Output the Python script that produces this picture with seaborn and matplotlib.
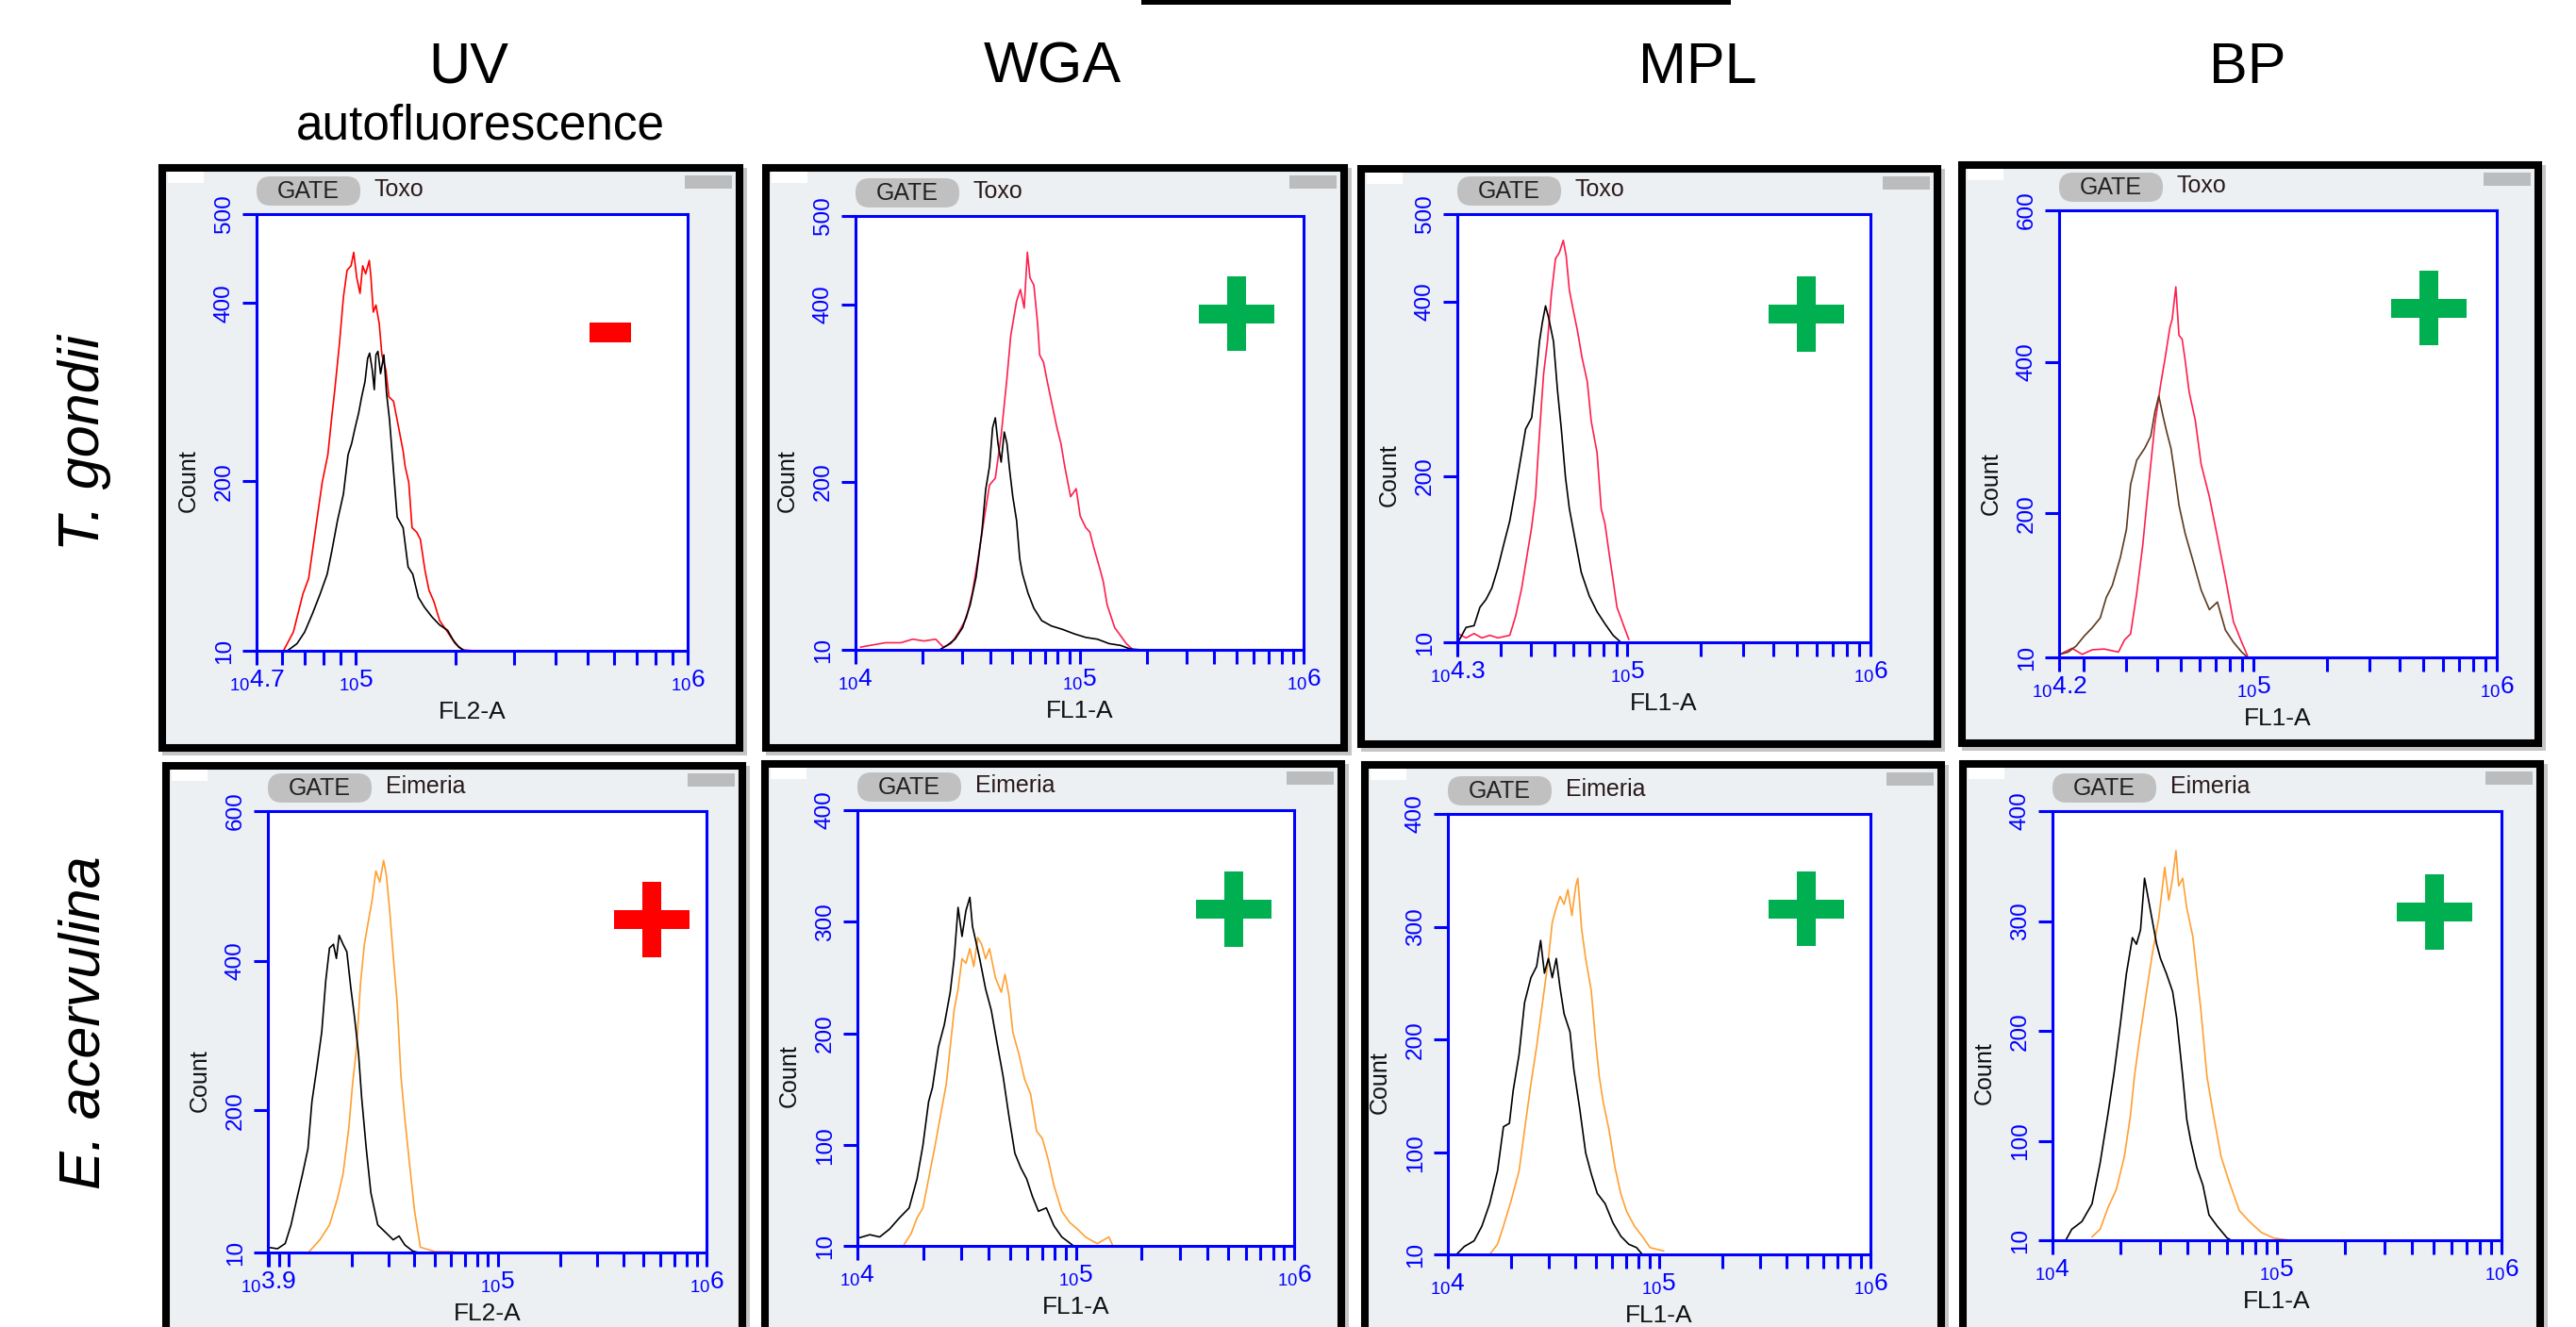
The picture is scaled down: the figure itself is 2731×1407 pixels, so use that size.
"""
Flow cytometry panel figure: lectin staining of T. gondii and E. acervulina
(UV autofluorescence, WGA, MPL, BP), re-drawn with seaborn / matplotlib.
"""

import numpy as np
import matplotlib
matplotlib.use("Agg")
import matplotlib.pyplot as plt
from matplotlib.patches import Rectangle, FancyBboxPatch, Polygon
from matplotlib.ticker import LogLocator, NullFormatter
import seaborn as sns

sns.set_theme(style="white")
plt.rcParams["font.family"] = ["Liberation Sans", "DejaVu Sans"]
plt.rcParams["mathtext.default"] = "regular"

W, H = 2731, 1407

# ---------------- labels ----------------
COLUMNS = ["UV", "WGA", "MPL", "BP"]
COLUMN_SUB = "autofluorescence"
ROWS = ["T. gondii", "E. acervulina"]
GATES = ["Toxo", "Eimeria"]
RESULTS = ["-", "+", "+", "+", "+", "+", "+", "+"]
X_LABELS = ["FL2-A", "FL1-A", "FL1-A", "FL1-A", "FL2-A", "FL1-A", "FL1-A", "FL1-A"]
X_LOW_EXP = [4.7, 4.0, 4.3, 4.2, 3.9, 4.0, 4.0, 4.0]
Y_TICKS = [
    [10, 200, 400, 500], [10, 200, 400, 500], [10, 200, 400, 500], [10, 200, 400, 600],
    [10, 200, 400, 600], [10, 100, 200, 300, 400], [10, 100, 200, 300, 400], [10, 100, 200, 300, 400],
]

# ---------------- histograms (log10 intensity, count) ----------------
# T. gondii - UV
toxo_uv_ctrl_log = [4.793, 4.822, 4.845, 4.869, 4.892, 4.913, 4.927, 4.944, 4.962, 4.976, 4.987, 4.997, 5.008,
                    5.017, 5.027, 5.035, 5.041, 5.049, 5.055, 5.060, 5.066, 5.074, 5.084, 5.092, 5.101, 5.113,
                    5.124, 5.142, 5.157, 5.171, 5.188, 5.206, 5.229, 5.252, 5.276, 5.293, 5.310, 5.328]
toxo_uv_ctrl_count = [10, 18, 31, 52, 74, 96, 122, 156, 186, 230, 243, 260, 277, 295, 312, 338, 344, 325, 303,
                      342, 346, 321, 342, 299, 269, 212, 160, 148, 104, 96, 70, 59, 48, 39, 33, 22, 14, 10]
toxo_uv_stain_log = [4.781, 4.811, 4.840, 4.857, 4.880, 4.898, 4.915, 4.927, 4.936, 4.950, 4.962, 4.973, 4.985,
                     4.993, 5.002, 5.012, 5.020, 5.029, 5.040, 5.045, 5.052, 5.060, 5.070, 5.078, 5.090, 5.099,
                     5.113, 5.124, 5.142, 5.148, 5.159, 5.169, 5.183, 5.194, 5.208, 5.220, 5.235, 5.252, 5.276,
                     5.299, 5.322, 5.357]
toxo_uv_stain_count = [10, 31, 74, 91, 152, 199, 230, 273, 303, 355, 407, 437, 442, 457, 429, 411, 442, 433, 448,
                       429, 390, 398, 377, 342, 325, 295, 290, 269, 234, 217, 199, 148, 143, 135, 100, 78, 65, 44,
                       31, 18, 11, 10]

# T. gondii - WGA
toxo_wga_ctrl_log = [4.065, 4.375, 4.409, 4.444, 4.478, 4.512, 4.538, 4.564, 4.581, 4.598, 4.612, 4.624, 4.636,
                     4.650, 4.664, 4.676, 4.688, 4.702, 4.719, 4.733, 4.745, 4.770, 4.796, 4.831, 4.874, 4.925,
                     4.977, 5.028, 5.080, 5.132, 5.183, 5.226, 5.278]
toxo_wga_ctrl_count = [10, 10, 15, 22, 35, 61, 92, 143, 191, 217, 261, 272, 243, 222, 256, 243, 213, 183, 156,
                       113, 96, 74, 57, 43, 37, 33, 28, 24, 22, 17, 15, 11, 10]
toxo_wga_stain_log = [4.022, 4.065, 4.134, 4.203, 4.255, 4.306, 4.358, 4.392, 4.426, 4.461, 4.495, 4.521, 4.547,
                      4.573, 4.598, 4.624, 4.650, 4.676, 4.693, 4.719, 4.736, 4.753, 4.767, 4.779, 4.796, 4.813,
                      4.822, 4.839, 4.856, 4.874, 4.899, 4.917, 4.934, 4.960, 4.985, 5.003, 5.028, 5.046, 5.063,
                      5.088, 5.106, 5.123, 5.140, 5.157, 5.183, 5.209, 5.235]
toxo_wga_stain_count = [13, 15, 18, 18, 22, 20, 22, 13, 17, 30, 46, 74, 113, 156, 196, 204, 252, 317, 365, 404,
                        417, 396, 459, 430, 422, 378, 343, 335, 313, 291, 261, 243, 217, 183, 192, 161, 148, 143,
                        126, 104, 87, 61, 48, 35, 26, 17, 11]

# T. gondii - MPL
toxo_mpl_ctrl_log = [4.303, 4.336, 4.369, 4.393, 4.418, 4.442, 4.467, 4.491, 4.516, 4.540, 4.565, 4.581, 4.606,
                     4.622, 4.638, 4.650, 4.663, 4.676, 4.696, 4.712, 4.728, 4.745, 4.761, 4.785, 4.810, 4.843,
                     4.875, 4.908, 4.941, 4.973]
toxo_mpl_ctrl_count = [10, 27, 29, 50, 59, 72, 95, 122, 149, 186, 227, 254, 267, 308, 354, 376, 395, 381, 354,
                       299, 254, 199, 163, 127, 90, 63, 45, 31, 18, 10]
toxo_mpl_stain_log = [4.303, 4.336, 4.369, 4.401, 4.434, 4.467, 4.516, 4.540, 4.565, 4.589, 4.605, 4.622, 4.633,
                      4.646, 4.655, 4.671, 4.687, 4.704, 4.720, 4.736, 4.748, 4.761, 4.777, 4.794, 4.813, 4.835,
                      4.851, 4.875, 4.892, 4.908, 4.924, 4.941, 4.957, 4.982, 5.006]
toxo_mpl_stain_count = [20, 15, 20, 15, 18, 15, 18, 40, 72, 113, 140, 177, 227, 281, 317, 354, 408, 449, 456,
                        470, 452, 413, 390, 367, 336, 308, 263, 227, 163, 145, 113, 81, 50, 31, 13]

# T. gondii - BP
toxo_bp_ctrl_log = [4.203, 4.237, 4.270, 4.303, 4.336, 4.369, 4.394, 4.419, 4.452, 4.477, 4.494, 4.519, 4.552,
                    4.577, 4.594, 4.610, 4.627, 4.643, 4.660, 4.677, 4.693, 4.718, 4.751, 4.784, 4.818, 4.851,
                    4.884, 4.917, 4.951, 4.975]
toxo_bp_ctrl_count = [14, 17, 25, 38, 49, 62, 89, 105, 142, 179, 238, 270, 286, 302, 334, 355, 329, 307, 286,
                      249, 211, 174, 137, 99, 73, 83, 46, 30, 17, 10]
toxo_bp_stain_log = [4.203, 4.253, 4.295, 4.336, 4.386, 4.444, 4.469, 4.494, 4.519, 4.544, 4.560, 4.577, 4.594,
                     4.618, 4.635, 4.656, 4.665, 4.680, 4.693, 4.706, 4.718, 4.735, 4.760, 4.784, 4.818, 4.851,
                     4.884, 4.917, 4.951, 4.975]
toxo_bp_stain_count = [14, 22, 14, 20, 21, 17, 33, 41, 94, 158, 211, 265, 318, 371, 403, 446, 456, 499, 435,
                       430, 403, 360, 323, 265, 222, 169, 115, 57, 30, 12]

# E. acervulina - UV
eim_uv_ctrl_log = [3.900, 3.946, 3.983, 4.011, 4.038, 4.066, 4.092, 4.111, 4.134, 4.158, 4.177, 4.195, 4.214,
                   4.228, 4.241, 4.260, 4.278, 4.297, 4.315, 4.334, 4.349, 4.371, 4.393, 4.426, 4.463, 4.500,
                   4.528, 4.556, 4.593, 4.620]
eim_uv_ctrl_count = [17, 15, 22, 47, 81, 115, 149, 212, 256, 305, 373, 417, 422, 403, 434, 422, 412, 364, 324,
                     276, 217, 149, 90, 47, 37, 27, 32, 20, 12, 10]
eim_uv_stain_log = [4.094, 4.149, 4.195, 4.232, 4.260, 4.288, 4.306, 4.325, 4.343, 4.362, 4.380, 4.399, 4.417,
                    4.436, 4.454, 4.467, 4.482, 4.500, 4.519, 4.537, 4.556, 4.578, 4.602, 4.630, 4.703, 4.787]
eim_uv_stain_count = [10, 27, 47, 81, 115, 178, 237, 285, 368, 422, 451, 481, 520, 505, 534, 515, 471, 407, 344,
                      246, 188, 129, 66, 17, 11, 11]

# E. acervulina - WGA
eim_wga_ctrl_log = [4.004, 4.057, 4.102, 4.147, 4.192, 4.237, 4.273, 4.300, 4.326, 4.344, 4.371, 4.398, 4.425,
                    4.443, 4.461, 4.479, 4.497, 4.515, 4.527, 4.542, 4.560, 4.587, 4.613, 4.640, 4.667, 4.694,
                    4.721, 4.748, 4.775, 4.802, 4.829, 4.865, 4.900, 4.936, 4.990]
eim_wga_ctrl_count = [17, 20, 18, 25, 35, 44, 70, 100, 139, 152, 188, 208, 237, 267, 313, 287, 310, 322, 296,
                      283, 267, 240, 221, 191, 162, 126, 93, 80, 70, 54, 41, 44, 28, 18, 10]
eim_wga_stain_log = [4.210, 4.246, 4.273, 4.300, 4.326, 4.353, 4.380, 4.407, 4.425, 4.443, 4.461, 4.479, 4.497,
                     4.515, 4.533, 4.551, 4.569, 4.587, 4.605, 4.632, 4.659, 4.676, 4.694, 4.712, 4.739, 4.766,
                     4.793, 4.820, 4.847, 4.874, 4.900, 4.936, 4.972, 5.008, 5.044, 5.098, 5.152, 5.170]
eim_wga_stain_count = [10, 21, 35, 44, 70, 97, 126, 155, 188, 221, 240, 267, 263, 276, 260, 286, 280, 267, 276,
                       250, 237, 253, 234, 201, 182, 159, 146, 113, 106, 87, 64, 41, 31, 25, 18, 12, 18, 10]

# E. acervulina - MPL
eim_mpl_ctrl_log = [4.041, 4.078, 4.124, 4.161, 4.198, 4.235, 4.263, 4.291, 4.309, 4.337, 4.363, 4.393, 4.420,
                    4.439, 4.457, 4.476, 4.494, 4.513, 4.531, 4.550, 4.578, 4.596, 4.624, 4.652, 4.679, 4.707,
                    4.744, 4.781, 4.819, 4.856, 4.893, 4.920]
eim_mpl_ctrl_count = [10, 17, 22, 35, 55, 84, 123, 126, 155, 187, 233, 255, 265, 288, 259, 272, 255, 272, 246,
                      223, 207, 174, 139, 100, 81, 64, 55, 38, 26, 19, 16, 10]
eim_mpl_stain_log = [4.198, 4.235, 4.263, 4.300, 4.337, 4.365, 4.393, 4.420, 4.448, 4.476, 4.494, 4.513, 4.531,
                     4.550, 4.568, 4.587, 4.605, 4.615, 4.633, 4.652, 4.679, 4.698, 4.716, 4.735, 4.763, 4.791,
                     4.818, 4.846, 4.883, 4.920, 4.957, 5.022]
eim_mpl_stain_count = [10, 19, 35, 58, 84, 123, 161, 194, 233, 272, 304, 317, 327, 320, 333, 310, 336, 343, 298,
                       272, 243, 201, 168, 145, 120, 87, 64, 48, 35, 26, 16, 13]

# E. acervulina - BP
eim_bp_ctrl_log = [4.059, 4.086, 4.131, 4.176, 4.212, 4.248, 4.275, 4.302, 4.329, 4.356, 4.374, 4.392, 4.410,
                   4.428, 4.446, 4.464, 4.481, 4.508, 4.535, 4.553, 4.580, 4.598, 4.616, 4.643, 4.670, 4.697,
                   4.733, 4.778, 4.796]
eim_bp_ctrl_count = [10, 20, 27, 43, 80, 126, 163, 206, 252, 285, 279, 292, 339, 319, 299, 279, 266, 252, 236,
                     212, 159, 120, 100, 76, 60, 33, 23, 12, 10]
eim_bp_stain_log = [4.176, 4.212, 4.248, 4.284, 4.320, 4.347, 4.365, 4.392, 4.419, 4.446, 4.473, 4.500, 4.518,
                    4.535, 4.550, 4.562, 4.580, 4.598, 4.625, 4.661, 4.688, 4.715, 4.751, 4.787, 4.832, 4.877,
                    4.931, 4.985, 5.057]
eim_bp_stain_count = [13, 20, 40, 56, 86, 123, 159, 199, 236, 272, 302, 349, 319, 339, 364, 332, 339, 312, 286,
                      219, 159, 126, 86, 63, 37, 27, 17, 12, 10]

CTRL = [
    (toxo_uv_ctrl_log, toxo_uv_ctrl_count), (toxo_wga_ctrl_log, toxo_wga_ctrl_count),
    (toxo_mpl_ctrl_log, toxo_mpl_ctrl_count), (toxo_bp_ctrl_log, toxo_bp_ctrl_count),
    (eim_uv_ctrl_log, eim_uv_ctrl_count), (eim_wga_ctrl_log, eim_wga_ctrl_count),
    (eim_mpl_ctrl_log, eim_mpl_ctrl_count), (eim_bp_ctrl_log, eim_bp_ctrl_count),
]
STAIN = [
    (toxo_uv_stain_log, toxo_uv_stain_count), (toxo_wga_stain_log, toxo_wga_stain_count),
    (toxo_mpl_stain_log, toxo_mpl_stain_count), (toxo_bp_stain_log, toxo_bp_stain_count),
    (eim_uv_stain_log, eim_uv_stain_count), (eim_wga_stain_log, eim_wga_stain_count),
    (eim_mpl_stain_log, eim_mpl_stain_count), (eim_bp_stain_log, eim_bp_stain_count),
]

# ---------------- layout (pixels) ----------------
BOXES = [(168, 174, 788, 797), (808, 174, 1429, 797), (1439, 175, 2058, 793), (2076, 171, 2695, 792),
         (172, 808, 791, 1430), (807, 806, 1426, 1430), (1443, 807, 2062, 1430), (2077, 806, 2697, 1430)]
AXES_PX = [(272, 227, 729, 690), (907, 229, 1382, 689), (1545, 227, 1983, 681), (2183, 223, 2647, 697),
           (284, 860, 749, 1328), (909, 859, 1372, 1321), (1535, 863, 1983, 1330), (2176, 860, 2652, 1315)]
SIGNS = [(625, 342, 669, 363), (1271, 293, 1351, 372), (1875, 293, 1955, 373), (2535, 287, 2615, 366),
         (651, 935, 731, 1015), (1268, 924, 1348, 1004), (1875, 924, 1955, 1003), (2541, 927, 2621, 1007)]

CTRL_COLORS = ["#000000", "#000000", "#000000", "#5C3A1E", "#000000", "#000000", "#000000", "#000000"]
STAIN_COLORS = ["#FF0000", "#FF1F4E", "#FF1F4E", "#FF1F4E", "#FFA033", "#FFA033", "#FFA033", "#FFA033"]
SIGN_COLORS = ["#FF0000", "#00B050", "#00B050", "#00B050", "#FF0000", "#00B050", "#00B050", "#00B050"]
BLUE = "#0000FF"
PANEL_BG = "#ECF0F3"


def px_rect(l, t, r, b):
    return [l / W, 1 - b / H, (r - l) / W, (b - t) / H]


fig = plt.figure(figsize=(W / 100, H / 100), dpi=100)
fig.patch.set_facecolor("white")

# background layer in pixel coordinates
bg = fig.add_axes([0, 0, 1, 1], zorder=-1)
bg.set_xlim(0, W)
bg.set_ylim(H, 0)
bg.axis("off")

# foreground layer in pixel coordinates
fg = fig.add_axes([0, 0, 1, 1], zorder=10)
fg.set_xlim(0, W)
fg.set_ylim(H, 0)
fg.axis("off")

# cropped line at the top and a sliver of something in the corner
bg.add_patch(Rectangle((1210, 0), 625, 5, color="black", lw=0))
bg.add_patch(Polygon([(185, 1407), (192, 1403), (262, 1401), (262, 1407)], color="#9B2B24", lw=0))

for i in range(8):
    l, t, r, b = BOXES[i]
    # shadow + framed panel
    bg.add_patch(Rectangle((l + 4, t + 4), r - l, b - t, color="#8C8C8C", alpha=0.5, lw=0))
    bg.add_patch(Rectangle((l + 4, t + 4), r - l - 8, b - t - 8, facecolor=PANEL_BG,
                           edgecolor="black", lw=5.8))
    bg.add_patch(Rectangle((l + 10, t + 8), 38, 12, color="white", lw=0))
    bg.add_patch(Rectangle((r - 62, t + 12), 50, 14, color="#A6A6A6", alpha=0.7, lw=0))

    al, at, ar, ab = AXES_PX[i]
    ax = fig.add_axes(px_rect(al, at, ar, ab))
    ax.set_facecolor("white")

    lo = X_LOW_EXP[i]
    sx, sy = STAIN[i]
    cx, cy = CTRL[i]
    sns.lineplot(x=10 ** np.array(sx), y=sy, ax=ax, color=STAIN_COLORS[i], linewidth=1.2,
                 estimator=None, sort=False, legend=False)
    sns.lineplot(x=10 ** np.array(cx), y=cy, ax=ax, color=CTRL_COLORS[i], linewidth=1.2,
                 estimator=None, sort=False, legend=False)

    ax.set_xscale("log")
    ax.set_xlim(10 ** lo, 1e6)
    ax.set_ylim(10, Y_TICKS[i][-1])
    ax.grid(False)

    majors = [10 ** lo] + [10.0 ** k for k in (5, 6) if k > lo]
    labels = [r"$_{10}$" + f"{np.log10(v):g}" for v in majors]
    ax.set_xticks(majors)
    ax.set_xticklabels(labels)
    ax.xaxis.set_minor_locator(LogLocator(base=10, subs=np.arange(1, 10), numticks=50))
    ax.xaxis.set_minor_formatter(NullFormatter())
    ax.set_yticks(Y_TICKS[i])
    ax.set_yticklabels([str(v) for v in Y_TICKS[i]])

    ax.tick_params(axis="both", which="both", direction="out", length=10.8, width=2.2,
                   color=BLUE, labelcolor=BLUE, bottom=True, left=True, top=False, right=False)
    ax.tick_params(axis="x", which="major", labelsize=19, pad=3)
    ax.tick_params(axis="y", labelsize=17.5, pad=6, labelrotation=90)
    for lbl in ax.get_yticklabels():
        lbl.set_va("center")
    for s in ax.spines.values():
        s.set_color(BLUE)
        s.set_linewidth(2.2)
        s.set_visible(True)

    aw, ah = ar - al, ab - at
    ax.set_xlabel(X_LABELS[i], fontsize=19, color="#111111")
    ax.xaxis.set_label_coords(0.5, -65 / ah)
    ax.xaxis.label.set_va("center")
    ax.set_ylabel("Count", fontsize=18, color="#111111")
    ax.yaxis.set_label_coords(-72 / aw, 0.39)
    ax.yaxis.label.set_va("center")

    # GATE pill and population name
    fg.add_patch(FancyBboxPatch((al, at - 40), 110, 31, boxstyle="round,pad=0,rounding_size=15",
                                facecolor="#C0C0C0", edgecolor="none"))
    fg.text(al + 55, at - 24, "GATE", fontsize=18, color="#222222", ha="center", va="center")
    fg.text(al + 125, at - 26, GATES[i // 4], fontsize=18, color="#2A1A1A", ha="left", va="center")

    # result sign
    sl, st, sr, sb = SIGNS[i]
    if RESULTS[i] == "-":
        fg.add_patch(Rectangle((sl, st), sr - sl, sb - st, color=SIGN_COLORS[i], lw=0))
    else:
        xc, yc = (sl + sr) / 2, (st + sb) / 2
        fg.add_patch(Rectangle((xc - 10, st), 20, sb - st, color=SIGN_COLORS[i], lw=0))
        fg.add_patch(Rectangle((sl, yc - 10), sr - sl, 20, color=SIGN_COLORS[i], lw=0))

# column headers
for x, name in zip([497, 1116, 1800, 2383], COLUMNS):
    fg.text(x, 88, name, fontsize=44, ha="center", va="baseline", color="black")
fg.text(509, 148, COLUMN_SUB, fontsize=37, ha="center", va="baseline", color="black")

# row labels
for y, name in zip([470, 1084], ROWS):
    fg.text(90, y, name, fontsize=44, style="italic", rotation=90, ha="center", va="center", color="black")

fig.savefig("out.png", dpi=100)
